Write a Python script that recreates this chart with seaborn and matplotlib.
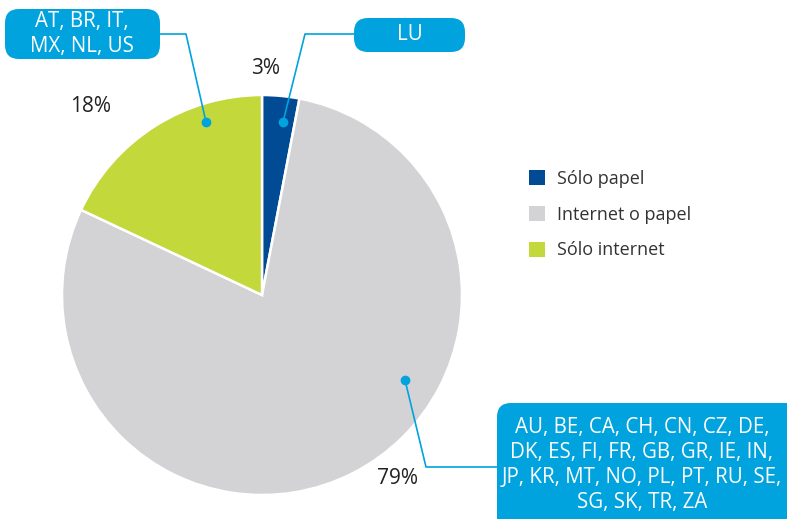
import matplotlib
matplotlib.use("Agg")
import matplotlib.pyplot as plt
import seaborn as sns
from matplotlib.patches import FancyBboxPatch

# ---- data ----
categories = ["Sólo papel", "Internet o papel", "Sólo internet"]
shares = [3, 79, 18]
pct_labels = ["3%", "79%", "18%"]
country_groups = [
    "LU",
    "AU, BE, CA, CH, CN, CZ, DE,\nDK, ES, FI, FR, GB, GR, IE, IN,\nJP, KR, MT, NO, PL, PT, RU, SE,\nSG, SK, TR, ZA",
    "AT, BR, IT,\nMX, NL, US",
]
colors = ["#004b93", "#d3d3d6", "#c3d83a"]
callout_color = "#00a3de"

sns.set_theme(style="white")
plt.rcParams["font.family"] = ["Open Sans", "DejaVu Sans"]

W, H = 787, 519
fig = plt.figure(figsize=(W / 100, H / 100), dpi=100)
ax = fig.add_axes([0, 0, 1, 1])

def Y(py):
    return H - py

cx, cy, R = 262, Y(295), 200
wedges, _ = ax.pie(shares, colors=colors, startangle=90, counterclock=False,
                   center=(cx, cy), radius=R, frame=True,
                   wedgeprops=dict(edgecolor="white", linewidth=1.8))
ax.set_xlim(0, W)
ax.set_ylim(0, H)
ax.set_aspect("equal")
ax.axis("off")

# percentage labels
pct_pos = [(266, 68), (397, 479), (91, 107)]
for lab, (px, py) in zip(pct_labels, pct_pos):
    ax.text(px, Y(py), lab, ha="center", va="center", fontsize=15, color="#222222")

# callout boxes: (x0, y0, x1, y1) in pixel, text centre
boxes = [
    ((354, 18, 465, 52), (410, 35)),
    ((497, 403, 810, 545), (642, 465)),
    ((5, 9, 160, 59), (82, 34)),
]
for (x0, y0, x1, y1), _ in boxes:
    p = FancyBboxPatch((x0, Y(y1)), x1 - x0, y1 - y0,
                       boxstyle="round,pad=0,rounding_size=14",
                       facecolor=callout_color, edgecolor="none", zorder=3)
    ax.add_patch(p)
for txt, (_, (tx, ty)) in zip(country_groups, boxes):
    ax.text(tx, Y(ty), txt, ha="center", va="center", fontsize=14.8,
            color="white", linespacing=1.23, zorder=4)

# leader lines
leaders = [
    [(354, 34), (305, 34), (283, 122)],
    [(497, 467), (426, 467), (405, 380)],
    [(160, 34), (186, 34), (206, 122)],
]
for pts in leaders:
    xs = [p[0] for p in pts]
    ys = [Y(p[1]) for p in pts]
    ax.plot(xs, ys, color=callout_color, lw=1.2, zorder=2)
    ax.plot(xs[-1], ys[-1], "o", color=callout_color, ms=6, zorder=5)

leg = ax.legend(wedges, categories, loc="upper left",
                bbox_to_anchor=(529 / W, 1 - 170 / H), bbox_transform=fig.transFigure,
                frameon=False, fontsize=13, handlelength=0.9, handleheight=0.9,
                handletextpad=0.65, labelspacing=0.98, borderpad=0, borderaxespad=0)
for t in leg.get_texts():
    t.set_color("#333333")
for h in leg.legend_handles:
    h.set_edgecolor("none")

fig.savefig("out.png", dpi=100)
